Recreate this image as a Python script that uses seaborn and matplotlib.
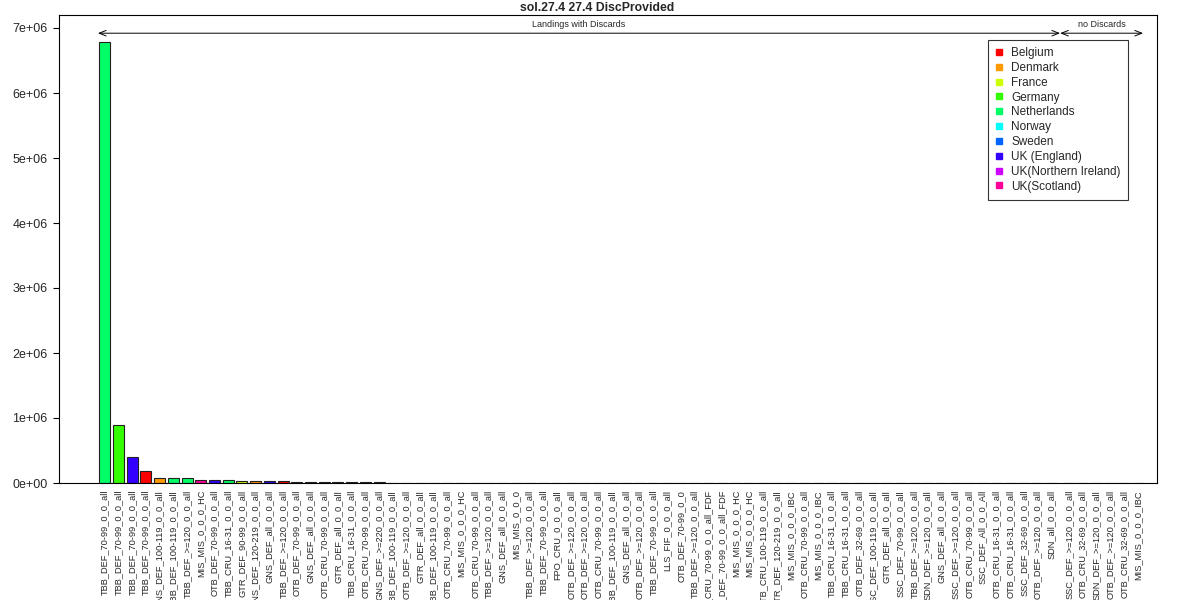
import numpy as np
import pandas as pd

import matplotlib
matplotlib.use("Agg")
import matplotlib.pyplot as plt
from matplotlib.lines import Line2D
import seaborn as sns

# Countries and R rainbow(10) colours
COUNTRIES = ["Belgium", "Denmark", "France", "Germany", "Netherlands", "Norway",
             "Sweden", "UK (England)", "UK(Northern Ireland)", "UK(Scotland)"]
COLOURS = ["#FF0000", "#FF9900", "#CCFF00", "#33FF00", "#00FF66", "#00FFFF",
           "#0066FF", "#3300FF", "#CC00FF", "#FF0099"]

# Landings with discards (sorted by value)
disc_metier = [
    "TBB_DEF_70-99_0_0_all", "TBB_DEF_70-99_0_0_all", "TBB_DEF_70-99_0_0_all",
    "TBB_DEF_70-99_0_0_all", "GNS_DEF_100-119_0_0_all", "TBB_DEF_100-119_0_0_all",
    "TBB_DEF_>=120_0_0_all", "MIS_MIS_0_0_0_HC", "OTB_DEF_70-99_0_0_all",
    "TBB_CRU_16-31_0_0_all", "GTR_DEF_90-99_0_0_all", "GNS_DEF_120-219_0_0_all",
    "GNS_DEF_all_0_0_all", "TBB_DEF_>=120_0_0_all", "OTB_DEF_70-99_0_0_all",
    "GNS_DEF_all_0_0_all", "OTB_CRU_70-99_0_0_all", "GTR_DEF_all_0_0_all",
    "TBB_CRU_16-31_0_0_all", "OTB_CRU_70-99_0_0_all", "GNS_DEF_>=220_0_0_all",
    "TBB_DEF_100-119_0_0_all", "OTB_DEF_>=120_0_0_all", "GTR_DEF_all_0_0_all",
    "TBB_DEF_100-119_0_0_all", "OTB_CRU_70-99_0_0_all", "MIS_MIS_0_0_0_HC",
    "OTB_CRU_70-99_0_0_all", "TBB_DEF_>=120_0_0_all", "GNS_DEF_all_0_0_all",
    "MIS_MIS_0_0_0", "TBB_DEF_>=120_0_0_all", "TBB_DEF_70-99_0_0_all",
    "FPO_CRU_0_0_0_all", "OTB_DEF_>=120_0_0_all", "OTB_DEF_>=120_0_0_all",
    "OTB_CRU_70-99_0_0_all", "TBB_DEF_100-119_0_0_all", "GNS_DEF_all_0_0_all",
    "OTB_DEF_>=120_0_0_all", "TBB_DEF_70-99_0_0_all", "LLS_FIF_0_0_0_all",
    "OTB_DEF_70-99_0_0", "TBB_DEF_>=120_0_0_all", "OTB_CRU_70-99_0_0_all_FDF",
    "OTB_DEF_70-99_0_0_all_FDF", "MIS_MIS_0_0_0_HC", "MIS_MIS_0_0_0_HC",
    "OTB_CRU_100-119_0_0_all", "GTR_DEF_120-219_0_0_all", "MIS_MIS_0_0_0_IBC",
    "OTB_CRU_70-99_0_0_all", "MIS_MIS_0_0_0_IBC", "TBB_CRU_16-31_0_0_all",
    "TBB_CRU_16-31_0_0_all", "OTB_DEF_32-69_0_0_all", "SSC_DEF_100-119_0_0_all",
    "GTR_DEF_all_0_0_all", "SSC_DEF_70-99_0_0_all", "TBB_DEF_>=120_0_0_all",
    "SDN_DEF_>=120_0_0_all", "GNS_DEF_all_0_0_all", "SSC_DEF_>=120_0_0_all",
    "OTB_CRU_70-99_0_0_all", "SSC_DEF_All_0_0_All", "OTB_CRU_16-31_0_0_all",
    "OTB_CRU_16-31_0_0_all", "SSC_DEF_32-69_0_0_all", "OTB_DEF_>=120_0_0_all",
    "SDN_all_0_0_all",
]
disc_country = [
    "Netherlands", "Germany", "UK (England)", "Belgium", "Denmark", "Netherlands",
    "Netherlands", "UK(Scotland)", "UK (England)", "Netherlands", "France", "Denmark",
    "UK (England)", "Belgium", "Netherlands", "Germany", "Belgium", "France",
    "Belgium", "Netherlands", "Denmark", "Germany", "Netherlands", "UK (England)",
    "Belgium", "Germany", "Netherlands", "Denmark", "UK (England)", "Belgium",
    "Belgium", "Germany", "Denmark", "France", "Denmark", "Germany",
    "UK (England)", "UK (England)", "France", "Belgium", "France", "UK (England)",
    "Belgium", "UK(Scotland)", "Netherlands", "Netherlands", "UK (England)", "Germany",
    "Netherlands", "Germany", "Netherlands", "Sweden", "UK (England)", "Germany",
    "Denmark", "Netherlands", "Denmark", "Denmark", "Denmark", "Denmark",
    "Denmark", "Sweden", "Netherlands", "UK(Scotland)", "UK (England)", "Netherlands",
    "Germany", "Netherlands", "Norway", "Denmark",
]
disc_catch = [
    6780000, 890000, 395000, 182000, 82000, 72000, 70000, 46000, 44000, 40000,
    35000, 30000, 28000, 24000, 18000, 16000, 14000, 11000, 10000, 9000,
    8000, 7000, 6500, 6000, 5500, 5000, 4500, 4200, 4000, 3700,
    3400, 3100, 2900, 2700, 2500, 2300, 2100, 1900, 1700, 1600,
    1500, 1400, 1300, 1200, 1100, 1000, 900, 800, 700, 650,
    600, 550, 500, 450, 400, 350, 300, 280, 250, 220,
    200, 180, 150, 130, 110, 90, 70, 50, 30, 10,
]

# Landings without discards
nodisc_metier = ["SSC_DEF_>=120_0_0_all", "OTB_CRU_32-69_0_0_all", "SDN_DEF_>=120_0_0_all",
                 "OTB_DEF_>=120_0_0_all", "OTB_CRU_32-69_0_0_all", "MIS_MIS_0_0_0_IBC"]
nodisc_country = ["UK(Scotland)", "Denmark", "UK(Scotland)", "Norway", "Sweden",
                  "UK(Northern Ireland)"]
nodisc_catch = [2000, 1500, 1000, 800, 500, 100]


def main():
    sns.set_style("white")
    plt.rcParams["font.family"] = ["Liberation Sans", "DejaVu Sans"]

    n1, n2 = len(disc_catch), len(nodisc_catch)
    gap = 0.3
    pos = list(np.arange(n1, dtype=float)) + list(n1 + gap + np.arange(n2, dtype=float))
    df = pd.DataFrame({
        "pos": pos,
        "catch": disc_catch + nodisc_catch,
        "country": disc_country + nodisc_country,
        "metier": disc_metier + nodisc_metier,
    })
    pal = dict(zip(COUNTRIES, COLOURS))

    fig = plt.figure(figsize=(12, 6), dpi=100)
    ax = fig.add_axes([0.049, 0.195, 0.915, 0.78])
    sns.barplot(data=df, x="pos", y="catch", hue="country", palette=pal,
                native_scale=True, dodge=False, errorbar=None, legend=False,
                edgecolor="#222222", linewidth=0.8, saturation=1, ax=ax)

    ax.set_xlim(-3.35, pos[-1] + 1.4)
    ax.set_ylim(0, 7.2e6)
    yt = np.arange(0, 8e6, 1e6)
    ax.set_yticks(yt)
    ax.set_yticklabels([f"{v:.0e}" for v in yt], fontsize=9)
    ax.set_xticks(pos)
    ax.set_xticklabels(df["metier"], rotation=90, fontsize=6.65, va="top", ha="center")
    ax.tick_params(axis="x", length=0, pad=5)
    ax.tick_params(axis="y", length=4.5, width=0.8, left=True, color="black")
    ax.set_xlabel("")
    ax.set_ylabel("")
    for s in ax.spines.values():
        s.set_visible(True)
        s.set_color("black")
        s.set_linewidth(0.8)

    # group arrows
    left = pos[0] - 0.5
    mid = (pos[n1 - 1] + pos[n1]) / 2
    right = pos[-1] + 0.4
    ya, ytxt = 6.92e6, 7.06e6
    for a, b, txt in [(left, mid, "Landings with Discards"), (mid, right, "no Discards")]:
        ax.annotate("", xy=(b, ya), xytext=(a, ya),
                    arrowprops=dict(arrowstyle="<->,head_length=0.5,head_width=0.2",
                                    color="black", lw=0.7, shrinkA=0, shrinkB=0))
        ax.text((a + b) / 2, ytxt, txt, ha="center", va="center", fontsize=6.5)

    handles = [Line2D([], [], marker="s", linestyle="none", markersize=4.5,
                      markerfacecolor=c, markeredgecolor=c) for c in COLOURS]
    leg = ax.legend(handles, COUNTRIES, loc="upper right", bbox_to_anchor=(0.9736, 0.9466),
                    borderaxespad=0, fontsize=8.5, frameon=True, fancybox=False,
                    handlelength=0.8, handletextpad=0.6, labelspacing=0.24,
                    borderpad=0.6)
    leg.get_frame().set_edgecolor("black")
    leg.get_frame().set_linewidth(0.8)

    fig.suptitle("sol.27.4 27.4 DiscProvided", x=0.498, y=0.997, fontsize=8.8,
                 fontweight="bold", va="top")
    fig.savefig("out.png", dpi=100)
    plt.close(fig)


if __name__ == "__main__":
    main()
